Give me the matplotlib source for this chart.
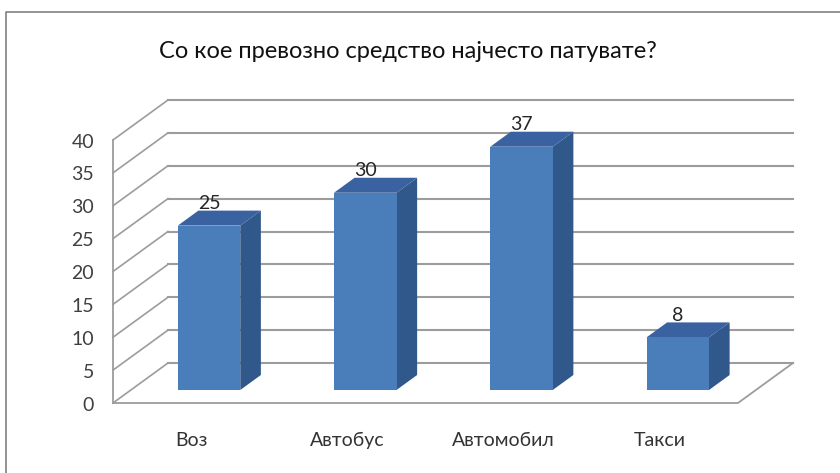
import matplotlib.pyplot as plt
from matplotlib.patches import Polygon

plt.rcParams['font.family'] = ['Lato', 'DejaVu Sans']

title = 'Со кое превозно средство најчесто патувате?'
categories = ['Воз', 'Автобус', 'Автомобил', 'Такси']
values = [25, 30, 37, 8]
y_ticks = [0, 5, 10, 15, 20, 25, 30, 35, 40]

# layout of the pseudo-3D box, in figure pixels
X0, Y0 = 113, 403          # front-left corner of the floor
WIDTH, HEIGHT = 625, 263   # front width for all categories, height for 0..40
DX, DY = 55, -40           # offset from front to back wall
VMAX = 40
BAR_HALF = 0.2             # half bar width, in category units
BAR_D0, BAR_D1 = 0.325, 0.7  # bar depth span (0 = front, 1 = back)

FRONT = '#4a7ebb'
SIDE = '#30588b'
TOP = '#3a62a0'
GRID = '#9c9c9c'


def proj(u, v, d):
    """category position u, value v, depth d -> pixel coords"""
    x = X0 + u * WIDTH / len(categories) + d * DX
    y = Y0 - v * HEIGHT / VMAX + d * DY
    return x, y


fig = plt.figure(figsize=(8.4, 4.73), dpi=100)
ax = fig.add_axes([0, 0, 1, 1])
ax.set_xlim(0, 840)
ax.set_ylim(473, 0)
ax.axis('off')

# chart frame (runs off the right and bottom edge)
ax.plot([6, 6, 842], [480, 12, 12], color='#808080', lw=1.2, solid_capstyle='butt')

n = len(categories)
# back wall gridlines and side wall diagonals
for t in y_ticks:
    xs, ys = zip(proj(0, t, 1), proj(n, t, 1))
    ax.plot(xs, ys, color=GRID, lw=1.5)
    xs, ys = zip(proj(0, t, 0), proj(0, t, 1))
    ax.plot(xs, ys, color=GRID, lw=1.2)
    x, y = proj(0, t, 0)
    ax.text(x - 19, y + 2, str(t), ha='right', va='center', fontsize=14, color='#404040')

# front vertical edge of the side wall
xs, ys = zip(proj(0, 0, 0), proj(0, VMAX, 0))
ax.plot(xs, ys, color=GRID, lw=1.3)
# floor front and right edges
xs, ys = zip(proj(0, 0, 0), proj(n, 0, 0), proj(n, 0, 1))
ax.plot(xs, ys, color=GRID, lw=1.3)

for i, (cat, v) in enumerate(zip(categories, values)):
    u0, u1 = i + 0.5 - BAR_HALF, i + 0.5 + BAR_HALF
    front = [proj(u0, 0, BAR_D0), proj(u1, 0, BAR_D0), proj(u1, v, BAR_D0), proj(u0, v, BAR_D0)]
    side = [proj(u1, 0, BAR_D0), proj(u1, 0, BAR_D1), proj(u1, v, BAR_D1), proj(u1, v, BAR_D0)]
    top = [proj(u0, v, BAR_D0), proj(u1, v, BAR_D0), proj(u1, v, BAR_D1), proj(u0, v, BAR_D1)]
    ax.add_patch(Polygon(side, closed=True, fc=SIDE, ec='none', zorder=3))
    ax.add_patch(Polygon(top, closed=True, fc=TOP, ec='none', zorder=3))
    ax.add_patch(Polygon(front, closed=True, fc=FRONT, ec='none', zorder=3))

    # value label above the front top edge
    x, y = proj(i + 0.5, v, BAR_D0)
    ax.text(x, y - 22, str(v), ha='center', va='center', fontsize=14, color='#262626', zorder=4)

    # category label under the floor
    x, y = proj(i + 0.5, 0, 0)
    ax.text(x, y + 37, cat, ha='center', va='center', fontsize=14, color='#333333')

ax.text(408, 51, title, ha='center', va='center', fontsize=17, color='#111111')

fig.savefig('out.png', dpi=100)
